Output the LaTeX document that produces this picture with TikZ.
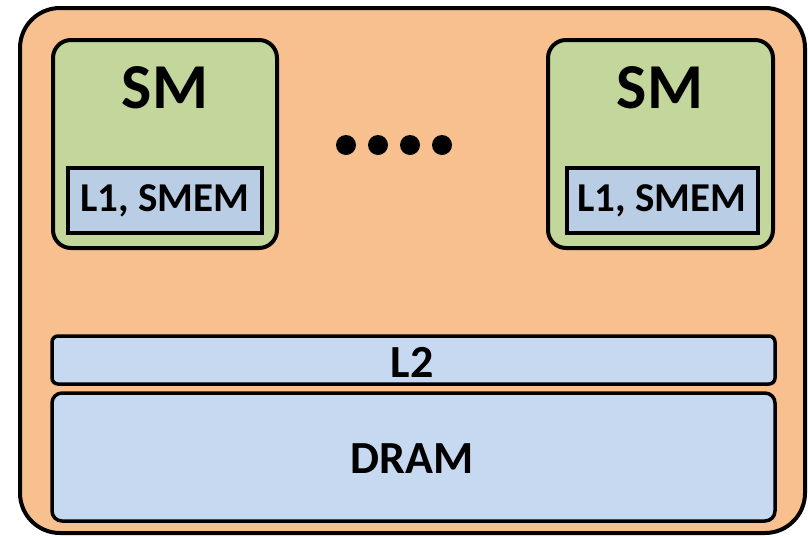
\documentclass[tikz,border=0pt]{standalone}
\usepackage{fontspec}
\setmainfont{Carlito}
\definecolor{chipfill}{HTML}{F9C08F}
\definecolor{smfill}{HTML}{C3D69B}
\definecolor{lonefill}{HTML}{B9CDE5}
\definecolor{memfill}{HTML}{C6D9F1}
\tikzset{
  chip/.style={draw=black, line width=4pt, fill=chipfill, rounded corners=40pt},
  smbox/.style={draw=black, line width=4pt, fill=smfill, rounded corners=18pt},
  lonebox/.style={draw=black, line width=3.5pt, fill=lonefill},
  membox/.style={draw=black, line width=3.5pt, fill=memfill},
  lbl/.style={font=\bfseries, text=black, inner sep=0pt},
  dot/.style={circle, fill=black, minimum size=20pt, inner sep=0pt}
}
\begin{document}
\begin{tikzpicture}[x=1pt, y=-1pt]
  \useasboundingbox (0,0) rectangle (808,536);
  % GPU chip outline
  \draw[chip] (20,8) rectangle (805,533);
  % streaming multiprocessors
  \draw[smbox] (53,40) rectangle (277,248);
  \draw[smbox] (548,40) rectangle (773,248);
  \node[lbl, font=\fontsize{64}{64}\bfseries] (sm1) at (165,88) {SM};
  \node[lbl, font=\fontsize{64}{64}\bfseries] (sm2) at (660,88) {SM};
  \draw[lonebox] (68,168) rectangle (262,233);
  \draw[lonebox] (567,168) rectangle (758,233);
  \node[lbl, font=\fontsize{41}{41}\bfseries] (l1a) at (165,201) {L1, SMEM};
  \node[lbl, font=\fontsize{41}{41}\bfseries] (l1b) at (662,201) {L1, SMEM};
  % ellipsis between the SMs
  \node[dot] (d1) at (346,145) {};
  \node[dot] (d2) at (378,145) {};
  \node[dot] (d3) at (410,145) {};
  \node[dot] (d4) at (442,145) {};
  % shared L2 cache and DRAM
  \draw[membox, rounded corners=6pt] (52,336) rectangle (775,384);
  \node[lbl, font=\fontsize{46}{46}\bfseries] (l2) at (412,362) {L2};
  \draw[membox, rounded corners=10pt] (52,393) rectangle (775,521);
  \node[lbl, font=\fontsize{46}{46}\bfseries] (dram) at (412,459) {DRAM};
\end{tikzpicture}
\end{document}
